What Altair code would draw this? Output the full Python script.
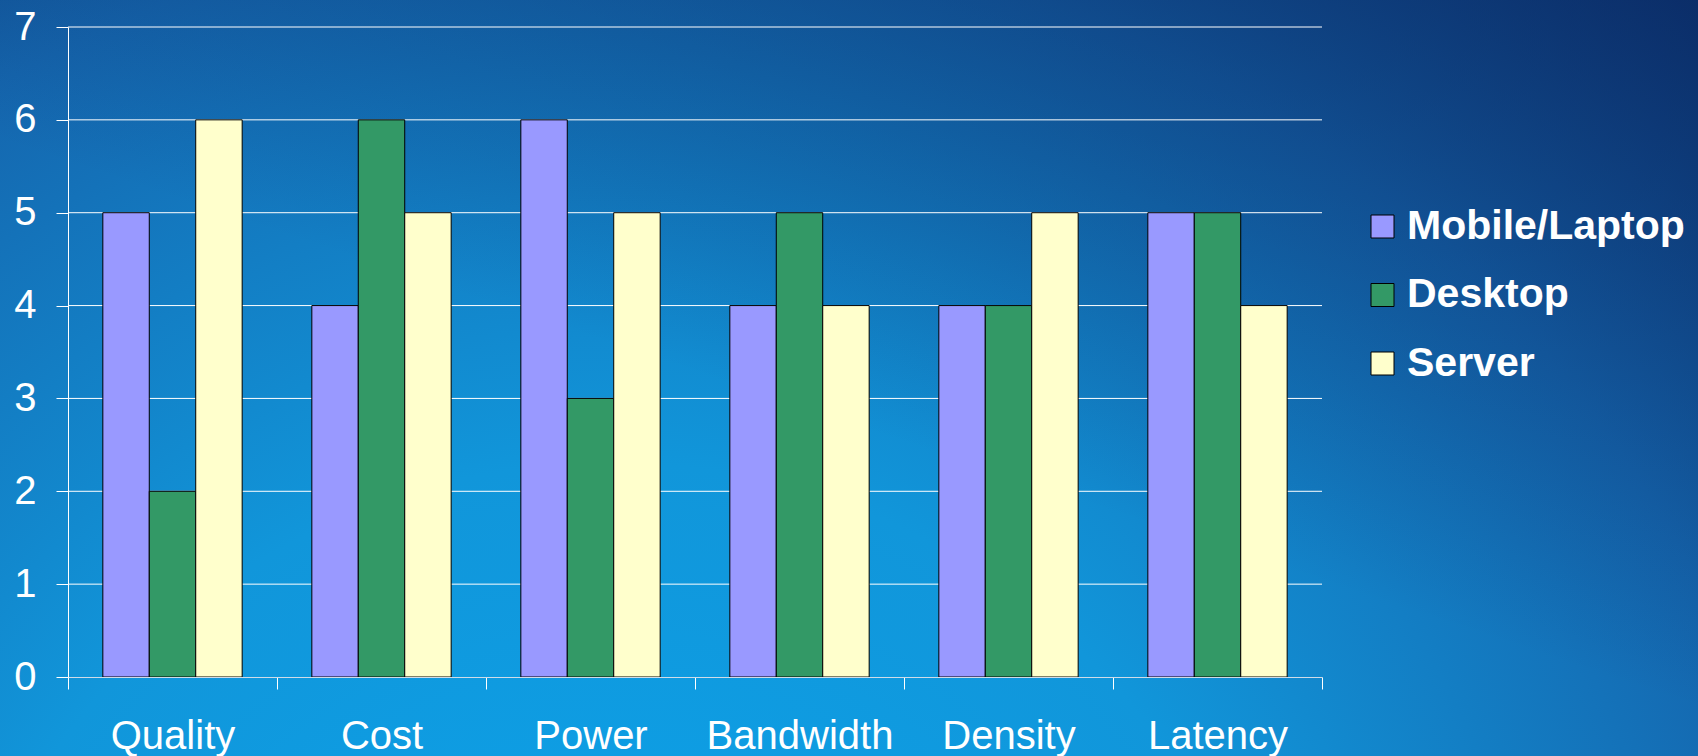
import altair as alt
import pandas as pd

# Chart data
categories = ["Quality", "Cost", "Power", "Bandwidth", "Density", "Latency"]
series = ["Mobile/Laptop", "Desktop", "Server"]
mobile_laptop = [5, 4, 6, 4, 4, 5]
desktop = [2, 6, 3, 5, 4, 5]
server = [6, 5, 5, 4, 5, 4]
y_ticks = [0, 1, 2, 3, 4, 5, 6, 7]
series_colors = ["#9999FF", "#339966", "#FFFFCC"]

rows = []
for name, vals in zip(series, [mobile_laptop, desktop, server]):
    for cat, v in zip(categories, vals):
        rows.append({"category": cat, "series": name, "value": v})
df = pd.DataFrame(rows)

# Layout (pixels)
CANVAS_W, CANVAS_H = 1698, 756
PAD_L, PAD_T = 68, 27
W, H = 1254, 650
FONT = "Liberation Sans"

full_canvas = dict(
    x=alt.value(-PAD_L),
    x2=alt.value(CANVAS_W - PAD_L),
    y=alt.value(-PAD_T),
    y2=alt.value(CANVAS_H - PAD_T),
)
one_row = pd.DataFrame({"k": [0]})

# Blue backdrop spanning the whole canvas: bright glow low on the left,
# deepening to navy towards the top right
backdrop = alt.Chart(one_row).mark_rect(
    fill={
        "gradient": "radial",
        "x1": 0.36, "y1": 0.95, "r1": 0.0,
        "x2": 0.36, "y2": 0.95, "r2": 1.0,
        "stops": [
            {"offset": 0.0, "color": "#0AA6EE"},
            {"offset": 0.4, "color": "#1196DA"},
            {"offset": 0.72, "color": "#1566AE"},
            {"offset": 1.0, "color": "#0D3472"},
        ],
    },
    strokeWidth=0,
).encode(**full_canvas)

shade = alt.Chart(one_row).mark_rect(
    fill={
        "gradient": "linear",
        "x1": 0.55, "y1": 0.6, "x2": 1.0, "y2": 0.0,
        "stops": [
            {"offset": 0.0, "color": "rgba(8, 30, 85, 0)"},
            {"offset": 1.0, "color": "rgba(8, 30, 85, 0.55)"},
        ],
    },
    strokeWidth=0,
).encode(**full_canvas)

y_scale = alt.Scale(domain=[0, 7], nice=False)
y_axis = alt.Axis(
    title=None,
    values=y_ticks,
    tickSize=12,
    tickColor="white",
    domainColor="white",
    grid=False,
    labelColor="white",
    labelFont=FONT,
    labelFontSize=40,
    labelPadding=20,
    zindex=1,
)

# Horizontal gridlines behind the bars
grid = alt.Chart(pd.DataFrame({"value": y_ticks[1:]})).mark_rule(
    color="white", strokeWidth=1
).encode(y=alt.Y("value:Q", scale=y_scale, axis=y_axis))

bars = alt.Chart(df).mark_bar(stroke="black", strokeWidth=1).encode(
    x=alt.X(
        "category:N",
        sort=categories,
        scale=alt.Scale(paddingInner=0, paddingOuter=0),
        axis=alt.Axis(
            title=None,
            labelAngle=0,
            tickBand="extent",
            tickSize=12,
            tickColor="white",
            domainColor="#D0DCE8",
            labelColor="white",
            labelFont=FONT,
            labelFontSize=40,
            labelPadding=27,
            labelLimit=400,
            grid=False,
            zindex=1,
        ),
    ),
    xOffset=alt.XOffset("series:N", sort=series,
                        scale=alt.Scale(paddingInner=0, paddingOuter=0.75)),
    y=alt.Y("value:Q", scale=y_scale, axis=y_axis),
    color=alt.Color(
        "series:N",
        sort=series,
        scale=alt.Scale(domain=series, range=series_colors),
        legend=alt.Legend(
            title=None,
            orient="none",
            legendX=1294,
            legendY=179,
            symbolType="square",
            symbolSize=529,
            symbolStrokeColor="black",
            symbolStrokeWidth=1,
            symbolOpacity=1,
            labelColor="white",
            labelFont=FONT,
            labelFontSize=41,
            labelFontWeight="bold",
            labelOffset=4,
            rowPadding=26.5,
            padding=0,
            labelLimit=400,
        ),
    ),
)

chart = alt.layer(backdrop, shade, grid, bars).properties(
    width=W,
    height=H,
    autosize=alt.AutoSizeParams(type="none"),
    padding={"left": PAD_L, "top": PAD_T,
             "right": CANVAS_W - PAD_L - W, "bottom": CANVAS_H - PAD_T - H},
    background="#0E5CA6",
).configure_view(stroke=None)

chart.save("out.html", embed_options={"renderer": "svg", "actions": False})
